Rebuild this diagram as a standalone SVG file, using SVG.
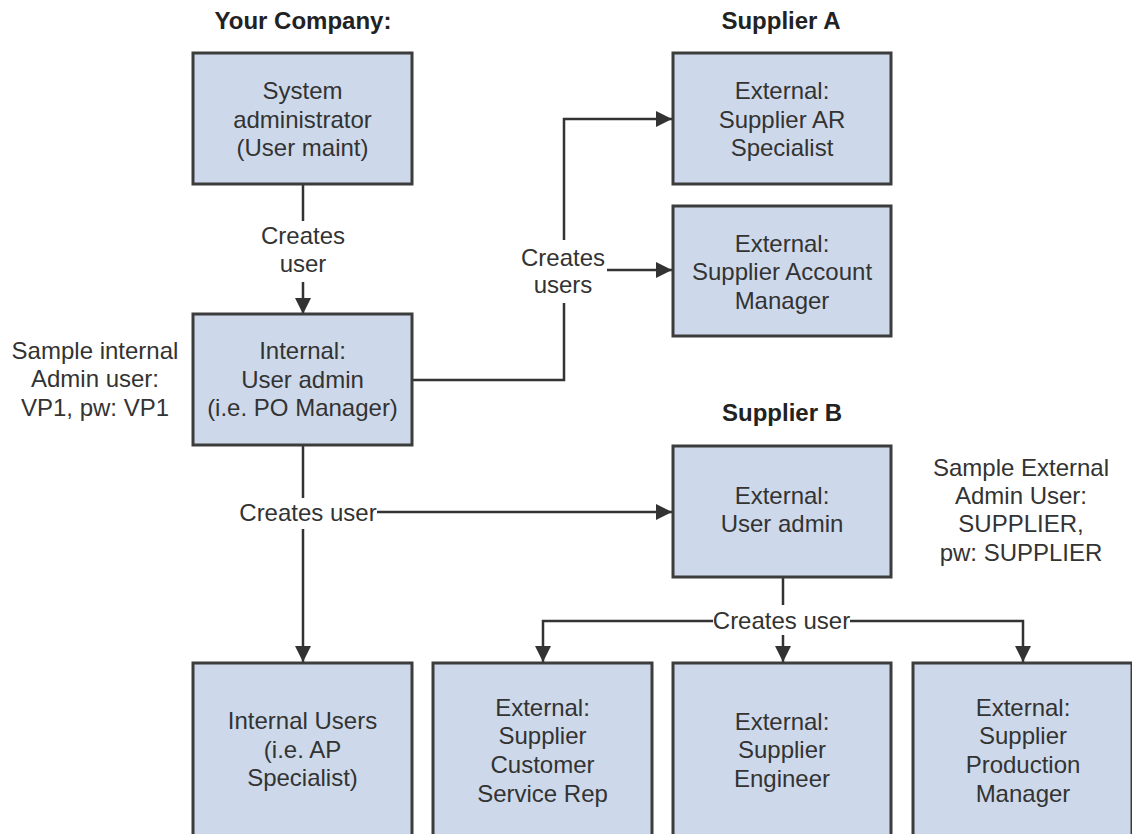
<svg xmlns="http://www.w3.org/2000/svg" width="1132" height="834" viewBox="0 0 1132 834">
<defs>
<marker id="arr" viewBox="0 0 16 16" refX="16" refY="8" markerWidth="16" markerHeight="16" markerUnits="userSpaceOnUse" orient="auto">
<path d="M0,0 L16,8 L0,16 z" fill="#333"/>
</marker>
<style>
.box{fill:#cdd9ea;stroke:#3c3c3c;stroke-width:3}
.t{font-family:"Liberation Sans",Arial,sans-serif;font-size:24px;fill:#333;text-anchor:middle}
.h{font-family:"Liberation Sans",Arial,sans-serif;font-size:24px;font-weight:bold;fill:#222;text-anchor:middle}
.c{fill:none;stroke:#333;stroke-width:2.5}
.a{marker-end:url(#arr)}
</style>
</defs>
<rect width="1132" height="834" fill="#fff"/>

<g id="titles">
<text class="h" x="303" y="28.5">Your Company:</text>
<text class="h" x="781" y="28.5">Supplier A</text>
<text class="h" x="782" y="420.5">Supplier B</text>
</g>

<g id="notes">
<text class="t" x="95" y="358.5">Sample internal</text>
<text class="t" x="95" y="387">Admin user:</text>
<text class="t" x="95" y="415.5">VP1, pw: VP1</text>
<text class="t" x="1021" y="475.5">Sample External</text>
<text class="t" x="1021" y="504">Admin User:</text>
<text class="t" x="1021" y="532">SUPPLIER,</text>
<text class="t" x="1021" y="560.5">pw: SUPPLIER</text>
</g>

<g id="connectors">
<path class="c" d="M303,184 V221"/>
<path class="c a" d="M303,282 V314"/>
<text class="t" x="303" y="243.5">Creates</text>
<text class="t" x="303" y="272">user</text>

<path class="c" d="M412,380 H564 V303"/>
<path class="c a" d="M564,240 V119 H672"/>
<path class="c a" d="M607,270 H672"/>
<text class="t" x="563" y="265.5">Creates</text>
<text class="t" x="563" y="293">users</text>

<path class="c" d="M303,445 V498"/>
<path class="c a" d="M303,529 V662"/>
<path class="c a" d="M377,512 H672"/>
<text class="t" x="308" y="521">Creates user</text>

<path class="c" d="M783,577 V605"/>
<path class="c a" d="M713,621 H543 V662"/>
<path class="c a" d="M850,621 H1023 V662"/>
<path class="c a" d="M783,635 V662"/>
<text class="t" x="781.5" y="629">Creates user</text>
</g>

<g id="sysadmin">
<rect class="box" x="193" y="53" width="219" height="131"/>
<text class="t" x="302.5" y="99">System</text>
<text class="t" x="302.5" y="127.5">administrator</text>
<text class="t" x="302.5" y="156">(User maint)</text>
</g>

<g id="internal-admin">
<rect class="box" x="193" y="314" width="219" height="131"/>
<text class="t" x="302.5" y="358.5">Internal:</text>
<text class="t" x="302.5" y="387.5">User admin</text>
<text class="t" x="302.5" y="416">(i.e. PO Manager)</text>
</g>

<g id="supplier-ar">
<rect class="box" x="673" y="53" width="218" height="131"/>
<text class="t" x="782" y="99">External:</text>
<text class="t" x="782" y="127.5">Supplier AR</text>
<text class="t" x="782" y="156">Specialist</text>
</g>

<g id="supplier-account">
<rect class="box" x="673" y="206" width="218" height="130"/>
<text class="t" x="782" y="251.5">External:</text>
<text class="t" x="782" y="280">Supplier Account</text>
<text class="t" x="782" y="308.5">Manager</text>
</g>

<g id="external-admin">
<rect class="box" x="673" y="446" width="218" height="131"/>
<text class="t" x="782" y="503.5">External:</text>
<text class="t" x="782" y="532">User admin</text>
</g>

<g id="internal-users">
<rect class="box" x="193" y="663" width="219" height="190"/>
<text class="t" x="302.5" y="728.5">Internal Users</text>
<text class="t" x="302.5" y="757.5">(i.e. AP</text>
<text class="t" x="302.5" y="786">Specialist)</text>
</g>

<g id="customer-service">
<rect class="box" x="433" y="663" width="219" height="190"/>
<text class="t" x="542.5" y="715.5">External:</text>
<text class="t" x="542.5" y="744">Supplier</text>
<text class="t" x="542.5" y="773">Customer</text>
<text class="t" x="542.5" y="801.5">Service Rep</text>
</g>

<g id="engineer">
<rect class="box" x="673" y="663" width="218" height="190"/>
<text class="t" x="782" y="729.5">External:</text>
<text class="t" x="782" y="758">Supplier</text>
<text class="t" x="782" y="786.5">Engineer</text>
</g>

<g id="production">
<rect class="box" x="913" y="663" width="219" height="190"/>
<text class="t" x="1023" y="715.5">External:</text>
<text class="t" x="1023" y="744">Supplier</text>
<text class="t" x="1023" y="773">Production</text>
<text class="t" x="1023" y="801.5">Manager</text>
</g>
</svg>
